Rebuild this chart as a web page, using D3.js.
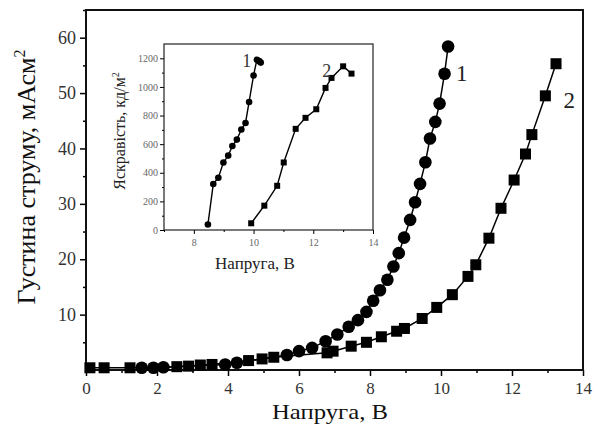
<!DOCTYPE html>
<html>
<head>
<meta charset="utf-8">
<script src="https://cdn.jsdelivr.net/npm/d3@7"></script>
<style>
  body { margin: 0; background: #fff; }
  text { font-family: "Liberation Serif", "Times New Roman", serif; }
</style>
</head>
<body>
<div id="chart"></div>
<script>
// main plot: current density vs voltage
const curve1V = [1.57, 1.9, 2.18, 3.92, 4.25, 5.66, 6.0, 6.37, 6.75, 7.08, 7.4, 7.66, 7.9, 8.09, 8.28, 8.49, 8.66, 8.81, 8.96, 9.13, 9.27, 9.41, 9.56, 9.69, 9.84, 9.96, 10.1, 10.2];
const curve1J = [0.4, 0.4, 0.5, 1.0, 1.3, 2.7, 3.4, 4.0, 5.2, 6.4, 7.8, 9.0, 10.5, 12.5, 14.4, 16.3, 18.7, 21.1, 23.9, 27.1, 30.3, 33.6, 37.5, 41.8, 44.8, 48.1, 53.5, 58.4];
const curve2V = [0.11, 0.51, 1.24, 2.56, 2.89, 3.22, 3.55, 4.58, 4.96, 5.29, 6.79, 6.96, 7.47, 7.9, 8.32, 8.75, 8.97, 9.47, 9.88, 10.32, 10.76, 10.98, 11.35, 11.69, 12.06, 12.38, 12.56, 12.94, 13.24];
const curve2J = [0.4, 0.4, 0.4, 0.6, 0.7, 0.9, 1.0, 1.7, 2.0, 2.3, 3.1, 3.4, 4.3, 5.0, 6.0, 7.0, 7.5, 9.3, 11.3, 13.6, 16.9, 19.0, 23.8, 29.2, 34.3, 39.0, 42.5, 49.5, 55.3];

// inset: luminance vs voltage
const inset1V = [8.47, 8.65, 8.82, 8.99, 9.15, 9.29, 9.44, 9.59, 9.73, 9.85, 10.0, 10.11, 10.19, 10.24];
const inset1L = [38, 321, 365, 472, 520, 587, 632, 702, 748, 895, 1080, 1190, 1180, 1170];
const inset2V = [9.92, 10.36, 10.79, 11.01, 11.41, 11.74, 12.1, 12.41, 12.61, 13.0, 13.28];
const inset2L = [47, 170, 309, 472, 707, 784, 844, 993, 1063, 1144, 1093];

const mainXTicks = [0, 2, 4, 6, 8, 10, 12, 14];
const mainYTicks = [10, 20, 30, 40, 50, 60];
const insetXTicks = [8, 10, 12, 14];
const insetYTicks = [0, 200, 400, 600, 800, 1000, 1200];

const width = 593, height = 425;
const m = { left: 86, right: 583, top: 10, bottom: 370 };
const ins = { left: 164, right: 373, top: 44, bottom: 230 };
const fmt = d3.format('d');

const svg = d3.select('#chart').append('svg')
  .attr('width', width)
  .attr('height', height);

svg.append('rect').attr('width', width).attr('height', height).attr('fill', '#fff');

const x = d3.scaleLinear().domain([0, 14]).range([m.left, m.right]);
const y = d3.scaleLinear().domain([0, 65]).range([m.bottom, m.top]);

const zip = (a, b) => a.map((v, i) => [v, b[i]]);
const s1 = zip(curve1V, curve1J);
const s2 = zip(curve2V, curve2J);

// minor ticks
svg.append('g')
  .attr('transform', `translate(0,${m.bottom})`)
  .call(d3.axisBottom(x).tickValues(d3.range(1, 14, 2)).tickSize(3).tickFormat(''))
  .call(g => g.select('.domain').remove())
  .call(g => g.selectAll('line').attr('stroke-width', 1.5));
svg.append('g')
  .attr('transform', `translate(${m.left},0)`)
  .call(d3.axisLeft(y).tickValues(d3.range(5, 66, 10)).tickSize(3).tickFormat(''))
  .call(g => g.select('.domain').remove())
  .call(g => g.selectAll('line').attr('stroke-width', 1.5));

svg.append('g')
  .attr('transform', `translate(0,${m.bottom})`)
  .call(d3.axisBottom(x).tickValues(mainXTicks).tickSize(6).tickPadding(6).tickFormat(fmt))
  .call(g => g.select('.domain').remove())
  .call(g => g.selectAll('line').attr('stroke-width', 1.5))
  .call(g => g.selectAll('text').attr('font-size', 17).attr('fill', '#333'));

svg.append('g')
  .attr('transform', `translate(${m.left},0)`)
  .call(d3.axisLeft(y).tickValues(mainYTicks).tickSize(6).tickPadding(4).tickFormat(fmt))
  .call(g => g.select('.domain').remove())
  .call(g => g.selectAll('line').attr('stroke-width', 1.5))
  .call(g => g.selectAll('text').attr('font-size', 18).attr('fill', '#333'));

svg.append('rect')
  .attr('x', m.left).attr('y', m.top)
  .attr('width', m.right - m.left).attr('height', m.bottom - m.top)
  .attr('fill', 'none').attr('stroke', '#111').attr('stroke-width', 2);

const line = d3.line().x(d => x(d[0])).y(d => y(d[1]));
svg.append('path').datum(s1).attr('d', line)
  .attr('fill', 'none').attr('stroke', '#000').attr('stroke-width', 1.5);
svg.append('path').datum(s2).attr('d', line)
  .attr('fill', 'none').attr('stroke', '#000').attr('stroke-width', 1.5);

svg.append('g').selectAll('rect').data(s2).join('rect')
  .attr('x', d => x(d[0]) - 5.5).attr('y', d => y(d[1]) - 5.5)
  .attr('width', 11).attr('height', 11).attr('fill', '#000');
svg.append('g').selectAll('circle').data(s1).join('circle')
  .attr('cx', d => x(d[0])).attr('cy', d => y(d[1])).attr('r', 6.3).attr('fill', '#000');

svg.append('text').attr('x', x(10.42)).attr('y', y(53.5) + 7)
  .attr('font-size', 23).attr('fill', '#222').text('1');
svg.append('text').attr('x', x(13.45)).attr('y', y(48.5) + 7)
  .attr('font-size', 23).attr('fill', '#222').text('2');

// axis titles
svg.append('text')
  .attr('transform', `translate(35,${177}) rotate(-90)`)
  .attr('text-anchor', 'middle').attr('font-size', 26).attr('fill', '#111')
  .html('Густина струму, мАсм<tspan dy="-10" font-size="16">2</tspan>');
svg.append('text')
  .attr('x', 330).attr('y', 419)
  .attr('text-anchor', 'middle').attr('font-size', 22).attr('fill', '#111')
  .attr('textLength', 116).attr('lengthAdjust', 'spacingAndGlyphs')
  .text('Напруга, В');

// inset
const xi = d3.scaleLinear().domain([7, 14]).range([ins.left, ins.right]);
const yi = d3.scaleLinear().domain([0, 1300]).range([ins.bottom, ins.top]);
const i1 = zip(inset1V, inset1L);
const i2 = zip(inset2V, inset2L);

svg.append('rect')
  .attr('x', ins.left).attr('y', ins.top)
  .attr('width', ins.right - ins.left).attr('height', ins.bottom - ins.top)
  .attr('fill', '#fff').attr('stroke', '#222').attr('stroke-width', 1.2);

svg.append('g')
  .attr('transform', `translate(0,${ins.bottom})`)
  .call(d3.axisBottom(xi).tickValues([7, 9, 11, 13]).tickSize(2).tickFormat(''))
  .call(g => g.select('.domain').remove());
svg.append('g')
  .attr('transform', `translate(${ins.left},0)`)
  .call(d3.axisLeft(yi).tickValues(d3.range(100, 1300, 200)).tickSize(2).tickFormat(''))
  .call(g => g.select('.domain').remove());

svg.append('g')
  .attr('transform', `translate(0,${ins.bottom})`)
  .call(d3.axisBottom(xi).tickValues(insetXTicks).tickSize(4).tickPadding(5).tickFormat(fmt))
  .call(g => g.select('.domain').remove())
  .call(g => g.selectAll('text').attr('font-size', 10).attr('fill', '#666'));
svg.append('g')
  .attr('transform', `translate(${ins.left},0)`)
  .call(d3.axisLeft(yi).tickValues(insetYTicks).tickSize(4).tickPadding(2).tickFormat(fmt))
  .call(g => g.select('.domain').remove())
  .call(g => g.selectAll('text').attr('font-size', 10).attr('fill', '#666'));

const lineI = d3.line().x(d => xi(d[0])).y(d => yi(d[1]));
svg.append('path').datum(i1).attr('d', lineI)
  .attr('fill', 'none').attr('stroke', '#000').attr('stroke-width', 1.4);
svg.append('path').datum(i2).attr('d', lineI)
  .attr('fill', 'none').attr('stroke', '#000').attr('stroke-width', 1.4);
svg.append('g').selectAll('circle').data(i1).join('circle')
  .attr('cx', d => xi(d[0])).attr('cy', d => yi(d[1])).attr('r', 3.3).attr('fill', '#000');
svg.append('g').selectAll('rect').data(i2).join('rect')
  .attr('x', d => xi(d[0]) - 3).attr('y', d => yi(d[1]) - 3)
  .attr('width', 6).attr('height', 6).attr('fill', '#000');

svg.append('text').attr('x', xi(9.62)).attr('y', yi(1180) + 6)
  .attr('font-size', 18).attr('fill', '#333').text('1');
svg.append('text').attr('x', xi(12.3)).attr('y', yi(1110) + 6)
  .attr('font-size', 18).attr('fill', '#333').text('2');

svg.append('text')
  .attr('transform', `translate(125,${131}) rotate(-90)`)
  .attr('text-anchor', 'middle').attr('font-size', 16).attr('fill', '#222')
  .html('Яскравість, кд/м<tspan dy="-6" font-size="10">2</tspan>');
svg.append('text')
  .attr('x', 255).attr('y', 269)
  .attr('text-anchor', 'middle').attr('font-size', 17).attr('fill', '#222')
  .text('Напруга, В');
</script>
</body>
</html>
